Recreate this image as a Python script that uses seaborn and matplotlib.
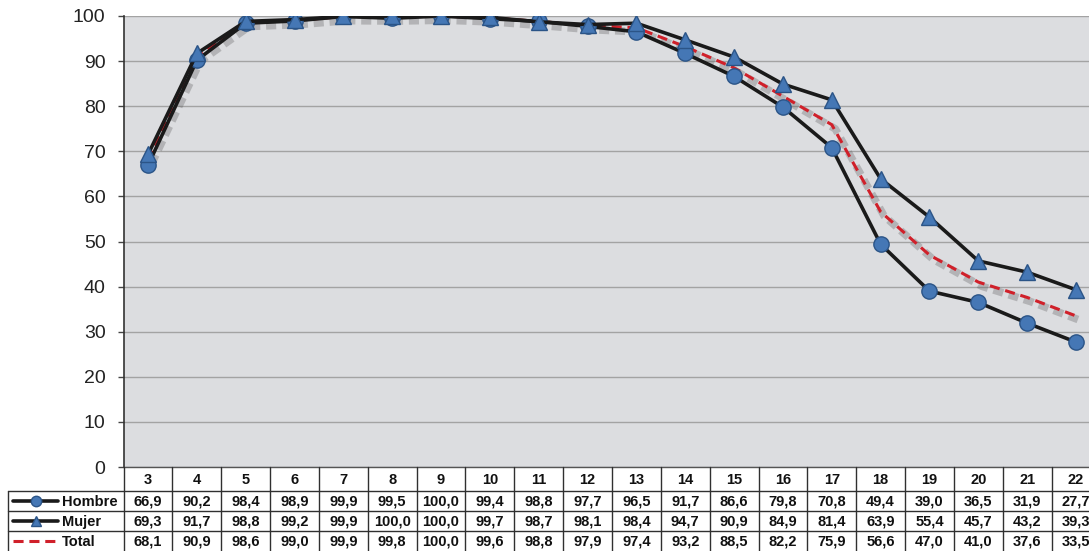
import matplotlib
matplotlib.use("Agg")
import matplotlib.pyplot as plt
import matplotlib.transforms as mtransforms
import matplotlib.patheffects as pe
from matplotlib.lines import Line2D
import seaborn as sns
import pandas as pd
import numpy as np

ages = [3, 4, 5, 6, 7, 8, 9, 10, 11, 12, 13, 14, 15, 16, 17, 18, 19, 20, 21, 22]
hombre = [66.9, 90.2, 98.4, 98.9, 99.9, 99.5, 100.0, 99.4, 98.8, 97.7, 96.5, 91.7, 86.6, 79.8, 70.8, 49.4, 39.0, 36.5, 31.9, 27.7]
mujer = [69.3, 91.7, 98.8, 99.2, 99.9, 100.0, 100.0, 99.7, 98.7, 98.1, 98.4, 94.7, 90.9, 84.9, 81.4, 63.9, 55.4, 45.7, 43.2, 39.3]
total = [68.1, 90.9, 98.6, 99.0, 99.9, 99.8, 100.0, 99.6, 98.8, 97.9, 97.4, 93.2, 88.5, 82.2, 75.9, 56.6, 47.0, 41.0, 37.6, 33.5]
series_names = ["Hombre", "Mujer", "Total"]
yticks = [0, 10, 20, 30, 40, 50, 60, 70, 80, 90, 100]

sns.set_theme(style="white")
plt.rcParams['font.family'] = ['Liberation Sans', 'DejaVu Sans']

W, H = 1089, 551
fig = plt.figure(figsize=(W / 100, H / 100), dpi=100)
fig.patch.set_facecolor("white")

def fy(p):
    return 1 - p / H

left_px, right_px, top_px, bot_px = 123.6, 1100.4, 16, 467
ax = fig.add_axes([left_px / W, fy(bot_px), (right_px - left_px) / W, (bot_px - top_px) / H])
ax.set_facecolor("#dcdde0")

df = pd.DataFrame({"age": ages, "Hombre": hombre, "Mujer": mujer, "Total": total})

blue = "#4577b5"
edge = "#2b5487"
dash = (0, (3.3, 1.9))
sns.lineplot(data=df, x="age", y="Total", ax=ax, color="#d0202a", lw=2.2,
             linestyle=dash, zorder=3,
             path_effects=[pe.SimpleLineShadow(offset=(2.5, -3), shadow_color="#555555", alpha=0.3, linewidth=5.5),
                           pe.Normal()])
sns.lineplot(data=df, x="age", y="Hombre", ax=ax, color="#1a1a1a", lw=2.6, marker="o",
             markersize=11, markerfacecolor=blue, markeredgecolor=edge, markeredgewidth=1, zorder=4)
sns.lineplot(data=df, x="age", y="Mujer", ax=ax, color="#1a1a1a", lw=2.6, marker="^",
             markersize=12, markerfacecolor=blue, markeredgecolor=edge, markeredgewidth=1, zorder=4)

ax.set_xlim(2.5, 22.5)
ax.set_ylim(0, 100)
ax.set_yticks(yticks)
ax.set_yticklabels([str(t) for t in yticks], fontsize=14, color="#222222")
ax.set_xticks([])
ax.set_xlabel("")
ax.set_ylabel("")
ax.grid(axis="y", color="#a3a3a3", lw=1)
ax.set_axisbelow(True)
for s in ["top", "right"]:
    ax.spines[s].set_visible(False)
ax.spines["left"].set_color("#333333")
ax.spines["left"].set_linewidth(1.2)
ax.spines["bottom"].set_color("#555555")
ax.spines["bottom"].set_linewidth(1)
ax.tick_params(axis="y", which="both", left=True, length=4.5, width=1, color="#444444", pad=8.5)

# Data table
tr = mtransforms.blended_transform_factory(ax.transData, fig.transFigure)
row_px = [467, 491, 511, 531, 551]
lc = "#303030"
for i in range(len(ages) + 1):
    x = 2.5 + i
    fig.add_artist(Line2D([x, x], [fy(467), fy(551)], transform=tr, color=lc, lw=1, clip_on=False))
for p in row_px[1:4]:
    fig.add_artist(Line2D([8 / W, 1], [fy(p), fy(p)], transform=fig.transFigure, color=lc, lw=1))
fig.add_artist(Line2D([8 / W, 8 / W], [fy(491), fy(551)], transform=fig.transFigure, color=lc, lw=1))

fs = 10.5
centers = [(row_px[k] + row_px[k + 1]) / 2 for k in range(4)]
for a in ages:
    fig.text(a, fy(centers[0]) - 0.001, str(a), transform=tr, ha="center", va="center",
             fontsize=fs, fontweight="bold", color="#111111")
for k, vals in enumerate([hombre, mujer, total]):
    for a, v in zip(ages, vals):
        fig.text(a, fy(centers[k + 1]) - 0.001, f"{v:.1f}".replace(".", ","), transform=tr,
                 ha="center", va="center", fontsize=fs, fontweight="bold", color="#111111")

# legend keys in the table
kx0, kx1 = 13 / W, 58 / W
for k, name in enumerate(series_names):
    yc = fy(centers[k + 1])
    if name == "Hombre":
        fig.add_artist(Line2D([kx0, kx1], [yc, yc], transform=fig.transFigure, color="#1a1a1a", lw=2.6))
        fig.add_artist(Line2D([(kx0 + kx1) / 2], [yc], transform=fig.transFigure, marker="o", markersize=7.5,
                              markerfacecolor=blue, markeredgecolor=edge, lw=0))
    elif name == "Mujer":
        fig.add_artist(Line2D([kx0, kx1], [yc, yc], transform=fig.transFigure, color="#1a1a1a", lw=2.6))
        fig.add_artist(Line2D([(kx0 + kx1) / 2], [yc], transform=fig.transFigure, marker="^", markersize=7.5,
                              markerfacecolor=blue, markeredgecolor=edge, lw=0))
    else:
        fig.add_artist(Line2D([kx0, kx1], [yc, yc], transform=fig.transFigure, color="#d0202a", lw=2.2,
                              linestyle=(0, (3.3, 1.9))))
    fig.text(62 / W, yc - 0.001, name, transform=fig.transFigure, ha="left", va="center",
             fontsize=fs, fontweight="bold", color="#111111")

fig.savefig("out.png", dpi=100)
